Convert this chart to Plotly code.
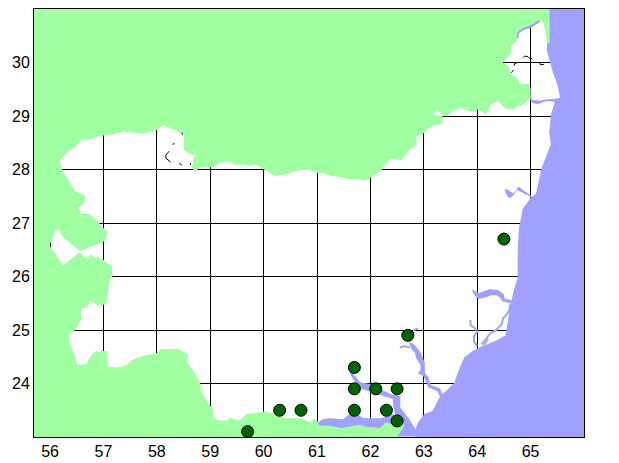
import plotly.graph_objects as go

x_ticks = [56, 57, 58, 59, 60, 61, 62, 63, 64, 65]
y_ticks = [24, 25, 26, 27, 28, 29, 30]

site_lon = [59.7, 60.3, 60.7, 61.7, 61.7, 61.7, 62.1, 62.3, 62.5, 62.5, 62.7, 64.5]
site_lat = [23.1, 23.5, 23.5, 23.5, 23.9, 24.3, 23.9, 23.5, 23.3, 23.9, 24.9, 26.7]

# land outline, clockwise from the top left corner
land_lon = [55.7, 65.35, 65.35, 65.31, 65.28, 65.24, 65.15, 65.01, 64.85, 64.74, 64.74, 64.64, 64.63, 64.51, 64.48,
            64.58, 64.64, 64.76, 64.79, 64.97, 65.00, 65.00, 64.85, 64.76, 64.67, 64.54, 64.39, 64.26, 64.17, 64.01,
            63.98, 63.86, 63.67, 63.54, 63.42, 63.33, 63.23, 63.18, 63.36, 63.34, 63.14, 63.01, 62.86, 62.87, 62.73,
            62.58, 62.42, 62.33, 62.20, 62.05, 61.92, 61.67, 61.49, 61.24, 61.14, 61.00, 60.86, 60.71, 60.55, 60.43,
            60.21, 60.05, 59.87, 59.68, 59.62, 59.46, 59.34, 59.18, 59.06, 58.81, 58.71, 58.65, 58.71, 58.56, 58.50,
            58.51, 58.31, 58.12, 58.00, 57.75, 57.37, 57.19, 56.94, 56.70, 56.59, 56.47, 56.31, 56.18, 56.23, 56.35,
            56.47, 56.66, 56.63, 56.53, 56.59, 56.75, 56.91, 57.00, 57.09, 57.07, 57.03, 56.56, 56.20, 56.19, 56.10,
            55.99, 56.25, 56.55, 56.63, 56.69, 56.76, 56.84, 56.91, 57.00, 57.16, 57.17, 57.12, 57.09, 57.05, 56.91,
            56.75, 56.70, 56.58, 56.58, 56.49, 56.36, 56.36, 56.47, 56.51, 56.68, 56.75, 56.84, 57.07, 57.07, 57.25,
            57.44, 57.53, 57.75, 58.00, 58.06, 58.40, 58.59, 58.57, 58.70, 58.81, 58.84, 59.00, 59.06, 59.06, 59.15,
            59.31, 59.37, 59.56, 59.68, 59.84, 60.05, 60.18, 60.43, 60.68, 60.87, 60.93, 61.00, 61.04, 61.24, 61.46,
            61.67, 61.80, 61.92, 62.17, 62.30, 62.42, 62.58, 62.64, 62.51, 62.51, 55.7]
land_lat = [31, 31, 30.37, 30.36, 30.56, 30.74, 30.80, 30.70, 30.65, 30.56, 30.40, 30.32, 30.16, 30.03, 30.00,
            29.94, 29.78, 29.70, 29.60, 29.60, 29.51, 29.35, 29.20, 29.18, 29.12, 29.13, 29.28, 29.22, 29.03, 29.13,
            29.07, 29.10, 29.15, 29.10, 28.99, 29.03, 29.13, 29.03, 28.99, 28.85, 28.82, 28.69, 28.61, 28.45, 28.38,
            28.17, 28.21, 28.16, 27.98, 27.88, 27.80, 27.82, 27.85, 27.89, 27.93, 27.94, 27.99, 27.99, 27.96, 27.91,
            27.88, 27.98, 28.09, 28.07, 28.10, 28.09, 28.16, 28.12, 28.04, 28.04, 27.96, 28.04, 28.26, 28.32, 28.38,
            28.66, 28.74, 28.83, 28.74, 28.67, 28.71, 28.66, 28.63, 28.55, 28.57, 28.41, 28.32, 28.17, 27.99, 27.79,
            27.60, 27.51, 27.35, 27.29, 27.17, 27.17, 27.01, 26.90, 26.83, 26.79, 26.67, 26.47, 26.79, 26.87, 26.88,
            26.58, 26.21, 26.45, 26.39, 26.33, 26.41, 26.34, 26.36, 26.31, 26.19, 26.00, 25.95, 25.76, 25.48, 25.46,
            25.55, 25.42, 25.40, 25.20, 25.02, 24.90, 24.74, 24.52, 24.35, 24.36, 24.49, 24.60, 24.61, 24.32, 24.30,
            24.34, 24.44, 24.52, 24.57, 24.64, 24.65, 24.53, 24.39, 24.21, 24.02, 23.83, 23.58, 23.52, 23.36, 23.31,
            23.31, 23.36, 23.32, 23.43, 23.45, 23.48, 23.43, 23.35, 23.35, 23.28, 23.33, 23.32, 23.21, 23.21, 23.17,
            23.21, 23.23, 23.19, 23.17, 23.28, 23.23, 23.32, 23.21, 23.02, 23, 23]

sea_lon = [65.35, 66, 66, 62.83, 62.83, 62.89, 63.01, 63.17, 63.29, 63.45, 63.57, 63.64, 63.76, 63.92, 64.10, 64.35,
           64.53, 64.57, 64.63, 64.70, 64.76, 64.76, 64.78, 64.85, 65.01, 65.10, 65.20, 65.38, 65.35, 65.38, 65.46,
           65.55, 65.51, 65.41, 65.30, 65.31, 65.35]
sea_lat = [31, 31, 23, 23, 23.12, 23.27, 23.43, 23.49, 23.74, 23.89, 24.01, 24.21, 24.49, 24.61, 24.70, 24.80,
           24.90, 25.14, 25.51, 25.79, 25.98, 26.51, 26.88, 27.26, 27.48, 27.54, 28.01, 28.47, 28.69, 29.03, 29.28,
           29.35, 29.56, 29.84, 30.25, 30.36, 30.37]

north_strip_lon = [64.73, 64.74, 64.85, 65.01, 65.15, 65.18, 65.01, 64.88, 64.78, 64.77]
north_strip_lat = [30.45, 30.56, 30.65, 30.70, 30.80, 30.76, 30.65, 30.61, 30.55, 30.45]

creek_29_lon = [65.00, 65.03, 65.16, 65.29, 65.54, 65.48, 65.29, 65.13, 65.03, 64.99]
creek_29_lat = [29.41, 29.30, 29.29, 29.31, 29.33, 29.26, 29.28, 29.22, 29.25, 29.31]

inlet_27_lon = [64.51, 64.57, 64.67, 64.78, 64.85, 65.01, 65.03, 64.98, 64.82, 64.74, 64.67, 64.60, 64.54]
inlet_27_lat = [27.62, 27.63, 27.55, 27.68, 27.62, 27.51, 27.46, 27.50, 27.58, 27.62, 27.51, 27.46, 27.54]

delta_north_lon = [63.90, 63.96, 64.03, 64.14, 64.23, 64.39, 64.50, 64.51, 64.64, 64.64, 64.48, 64.42, 64.36, 64.26,
                   64.17, 64.03, 63.96, 63.92]
delta_north_lat = [25.76, 25.73, 25.69, 25.73, 25.76, 25.75, 25.67, 25.59, 25.56, 25.50, 25.53, 25.61, 25.65, 25.65,
                   25.61, 25.58, 25.64, 25.70]

river_mid_lon = [62.72, 62.77, 62.83, 62.86, 62.94, 62.94, 62.89, 62.99, 63.05, 63.08, 63.25, 63.32, 63.37, 63.30,
                 63.13, 63.08, 63.02, 63.02, 62.94, 62.89, 62.80]
river_mid_lat = [24.77, 24.64, 24.58, 24.47, 24.34, 24.26, 24.19, 24.14, 24.02, 23.93, 23.86, 23.72, 23.76, 23.91,
                 23.97, 24.13, 24.19, 24.39, 24.58, 24.65, 24.75]

river_south_lon = [61.61, 61.69, 61.80, 61.99, 62.20, 62.39, 62.56, 62.56, 62.73, 62.84, 62.83, 62.51, 61.02, 61.02,
                   61.11, 61.24, 61.49, 61.61, 61.74, 61.85, 62.02, 62.20, 62.39, 62.47, 62.43, 62.42, 62.23, 61.99,
                   61.80, 61.67, 61.62]
river_south_lat = [24.25, 24.17, 24.03, 23.99, 23.89, 23.80, 23.76, 23.55, 23.33, 23.15, 23.01, 23.01, 23.15, 23.27,
                   23.33, 23.35, 23.33, 23.43, 23.45, 23.36, 23.35, 23.35, 23.43, 23.41, 23.55, 23.71, 23.77, 23.85,
                   23.91, 24.09, 24.17]

# thin channels, drawn as lines
thin_lon = [64.61, 64.61, 64.56, 64.48, 64.46, 64.36, 64.25, 64.17, 64.08, None,
            63.87, 63.88, 63.97, 64.00, 63.94, 63.94, 64.00, None,
            62.89, 62.82, 62.78, None,
            62.55, 62.64, 62.74]
thin_lat = [25.48, 25.39, 25.30, 25.21, 25.11, 25.00, 24.94, 24.84, 24.73, None,
            25.19, 25.09, 25.02, 24.97, 24.89, 24.78, 24.70, None,
            25.03, 25.00, 24.90, None,
            24.67, 24.70, 24.67]

mud_lon = [64.11, 64.20]
mud_lat = [24.72, 24.84]

# little black bits of border left on the white
bits_lon = [58.47, 58.48, None, 58.33, 58.30, None, 58.23, 58.17, 58.17, 58.26, None, 58.42, 58.47, None, 58.63, 58.63,
            None, 64.86, 64.89, 64.95, 64.98, 65.03, None, 64.74, 64.70, 64.69, None, 65.17, 65.18, 65.25, None,
            64.64, 64.66, 64.68]
bits_lat = [28.69, 28.65, None, 28.50, 28.46, None, 28.34, 28.27, 28.21, 28.14, None, 28.12, 28.08, None, 28.12, 28.09,
            None, 30.09, 30.12, 30.11, 30.08, 30.07, None, 29.99, 29.98, 29.94, None, 29.99, 29.96, 29.96, None,
            29.81, 29.84, 29.86]

BLUE = "#A0A0FF"
GREEN = "#A0FFA0"

fig = go.Figure()


def add_area(lon, lat, color):
    fig.add_trace(go.Scatter(x=lon, y=lat, mode="lines", fill="toself", fillcolor=color,
                             line=dict(width=0, color=color), showlegend=False))


add_area(sea_lon, sea_lat, BLUE)
add_area(north_strip_lon, north_strip_lat, BLUE)
add_area(creek_29_lon, creek_29_lat, BLUE)
add_area(inlet_27_lon, inlet_27_lat, BLUE)
add_area(delta_north_lon, delta_north_lat, BLUE)
add_area(river_mid_lon, river_mid_lat, BLUE)
add_area(river_south_lon, river_south_lat, BLUE)
fig.add_trace(go.Scatter(x=thin_lon, y=thin_lat, mode="lines", line=dict(color=BLUE, width=2), showlegend=False))
fig.add_trace(go.Scatter(x=mud_lon, y=mud_lat, mode="lines", line=dict(color="#B4B4CC", width=3), showlegend=False))
add_area(land_lon, land_lat, GREEN)
fig.add_trace(go.Scatter(x=bits_lon, y=bits_lat, mode="lines", line=dict(color="black", width=1), showlegend=False))
fig.add_trace(go.Scatter(x=site_lon, y=site_lat, mode="markers", showlegend=False,
                         marker=dict(size=12, color="#006400", line=dict(color="black", width=1))))

fig.update_layout(width=619, height=463, margin=dict(l=33.5, r=34.7, t=9.3, b=25.7),
                  paper_bgcolor="white", plot_bgcolor="white",
                  font=dict(family="Liberation Sans", size=16, color="black"))

fig.update_xaxes(range=[55.7, 66], tickvals=x_ticks, showgrid=True, gridcolor="black", gridwidth=1,
                 showline=True, linecolor="black", linewidth=1, mirror=True, zeroline=False,
                 ticks="outside", ticklen=0, automargin=False)
fig.update_yaxes(range=[23, 31], tickvals=y_ticks, showgrid=True, gridcolor="black", gridwidth=1,
                 showline=True, linecolor="black", linewidth=1, mirror=True, zeroline=False,
                 ticks="outside", ticklen=0, automargin=False)

# the page's default body margin would push the chart 8px in
fig.write_html("out.html", config=dict(displayModeBar=False),
               post_script="document.body.style.margin='0';document.body.style.overflow='hidden';")
